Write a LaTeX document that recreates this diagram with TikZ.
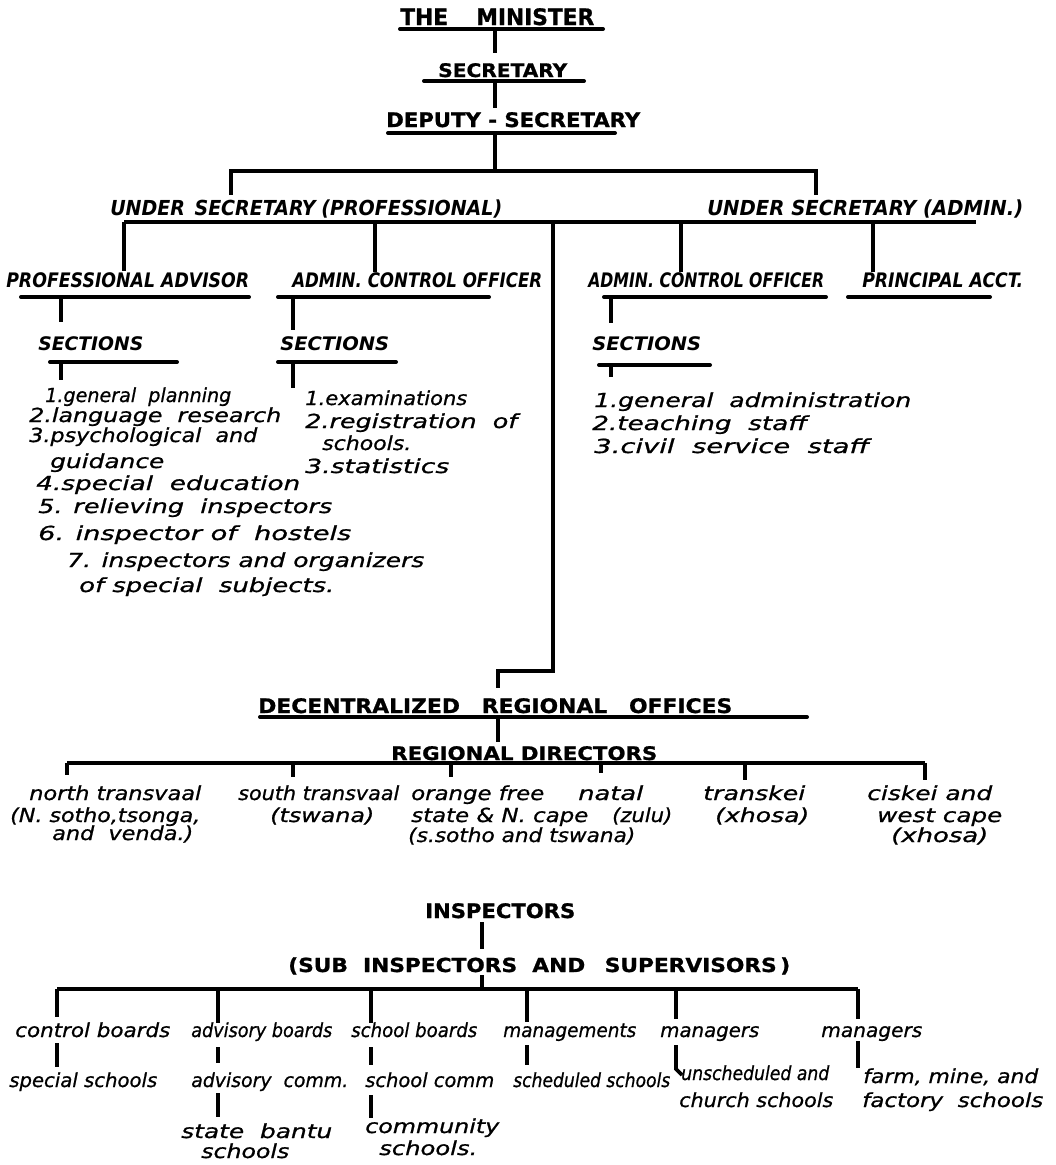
\documentclass[tikz,border=0pt]{standalone}
\usepackage{fontspec}
\usepackage{graphicx}
\newfontface\hfont{DejaVu Sans Bold}[FakeBold=1]
\newfontface\icfont{DejaVu Sans Bold Oblique}
\newfontface\lcfont{DejaVu Sans Oblique}[FakeBold=0.8]
\newlength\pxu
\setlength\pxu{0.75pt}
\newcommand\fw[2]{\resizebox{#1\pxu}{\height}{#2}}
\tikzset{
  hd/.style={anchor=base west, inner sep=0pt, font=\hfont\fontsize{#1}{#1}\selectfont},
  hd/.default=15,
  ic/.style={anchor=base west, inner sep=0pt, font=\icfont\fontsize{#1}{#1}\selectfont},
  ic/.default=15,
  lc/.style={anchor=base west, inner sep=0pt, font=\lcfont\fontsize{14.5}{14.5}\selectfont},
  ln/.style={line width=2.8pt, line cap=butt},
  ul/.style={line width=3pt, line cap=round},
}
\begin{document}
\begin{tikzpicture}[x=0.75pt, y=-0.75pt]
\fill[white] (0,0) rectangle (1056,1165);
\useasboundingbox (0,0) rectangle (1056,1165);

% ---------------- headings ----------------
\node[hd=17] (min) at (400,25) {\fw{194}{THE\hspace{1.3em}MINISTER}};
\node[hd=14] (sec) at (438,77) {\fw{129}{SECRETARY}};
\node[hd=15] (dep) at (386,127) {\fw{254}{DEPUTY - SECRETARY}};

\coordinate (minL) at (400,29); \coordinate (minR) at (603,29);
\coordinate (secL) at (424,81); \coordinate (secR) at (584,81);
\coordinate (depL) at (388,133); \coordinate (depR) at (615,133);
\draw[ul] (minL) -- (minR);
\draw[ul] (secL) -- (secR);
\draw[ul] (depL) -- (depR);
\draw[ln] (495,29) -- (495,53);
\draw[ln] (495,81) -- (495,108);
\draw[ln] (495,133) -- (495,171);
\draw[ln] (231,195) -- (231,171) -- (816,171) -- (816,195);

% ---------------- under secretaries ----------------
\node[ic=15.5] (usp) at (110,215) {\fw{392}{UNDER\hspace{.5em}SECRETARY\hspace{.3em}(PROFESSIONAL)}};
\node[ic=15.5] (usa) at (707,215) {\fw{316}{UNDER SECRETARY (ADMIN.)}};

\draw[ln] (124,222) -- (976,222);
\foreach \x/\y in {124/271, 375/272, 681/272, 873/272}
  \draw[ln] (\x,222) -- (\x,\y);
\draw[ln] (553,222) -- (553,671) -- (498,671) -- (498,688);

% ---------------- officers ----------------
\node[ic=15] (pa) at (6,287) {\fw{243}{PROFESSIONAL ADVISOR}};
\node[ic=15] (aco1) at (292,287) {\fw{250}{ADMIN. CONTROL OFFICER}};
\node[ic=15] (aco2) at (588,287) {\fw{236}{ADMIN. CONTROL OFFICER}};
\node[ic=15] (pacct) at (862,287) {\fw{161}{PRINCIPAL ACCT.}};

\draw[ul] (21,297) -- (249,297);
\draw[ul] (278,297) -- (489,297);
\draw[ul] (604,297) -- (826,297);
\draw[ul] (848,297) -- (990,297);
\draw[ln] (61,297) -- (61,322);
\draw[ln] (293,297) -- (293,330);
\draw[ln] (611,297) -- (611,323);

\node[ic=14] (sec1) at (38,350) {\fw{105}{SECTIONS}};
\node[ic=14] (sec2) at (280,350) {\fw{109}{SECTIONS}};
\node[ic=14] (sec3) at (592,350) {\fw{109}{SECTIONS}};

\draw[ul] (50,362) -- (177,362);
\draw[ul] (278,362) -- (396,362);
\draw[ul] (599,365) -- (710,365);
\draw[ln] (61,362) -- (61,380);
\draw[ln] (293,362) -- (293,388);
\draw[ln] (611,365) -- (611,377);

% ---------------- section lists ----------------
\node[lc] (l1) at (45,402) {\fw{186}{1.general\ \ planning}};
\node[lc] (l2) at (29,422) {\fw{252}{2.language\ \ research}};
\node[lc] (l3) at (29,442) {\fw{228}{3.psychological\ \ and}};
\node[lc] (l3b) at (50,468) {\fw{114}{guidance}};
\node[lc] (l4) at (36,490) {\fw{264}{4.special\ \ education}};
\node[lc] (l5) at (38,513) {\fw{294}{5. relieving\ \ inspectors}};
\node[lc] (l6) at (38,540) {\fw{313}{6. inspector\ of\ \ hostels}};
\node[lc] (l7) at (67,567) {\fw{357}{7. inspectors\ and\ organizers}};
\node[lc] (l7b) at (79,592) {\fw{255}{of\ special\ \ subjects.}};

\node[lc] (m1) at (305,405) {\fw{162}{1.examinations}};
\node[lc] (m2) at (305,428) {\fw{212}{2.registration\ \ of}};
\node[lc] (m2b) at (322,450) {\fw{89}{schools.}};
\node[lc] (m3) at (305,473) {\fw{144}{3.statistics}};

\node[lc] (r1) at (594,407) {\fw{317}{1.general\ \ administration}};
\node[lc] (r2) at (592,430) {\fw{215}{2.teaching\ \ staff}};
\node[lc] (r3) at (594,453) {\fw{275}{3.civil\ \ service\ \ staff}};

% ---------------- regional offices ----------------
\node[hd=15] (dro) at (258,713) {\fw{474}{DECENTRALIZED\hspace{1em}REGIONAL\hspace{1em}OFFICES}};
\draw[ul] (260,717) -- (807,717);
\draw[ln] (498,717) -- (498,742);
\node[hd=14] (rd) at (391,760) {\fw{266}{REGIONAL DIRECTORS}};
\draw[ln] (67,763) -- (925,763);
\foreach \x/\y in {67/775, 293/777, 451/777, 601/773, 745/780, 925/780}
  \draw[ln] (\x,763) -- (\x,\y);

\node[lc] (nt1) at (29,800) {\fw{172}{north transvaal}};
\node[lc] (nt2) at (10,822) {\fw{190}{(N. sotho,tsonga,}};
\node[lc] (nt3) at (52,840) {\fw{141}{and\ \ venda.)}};
\node[lc] (st1) at (238,800) {\fw{161}{south transvaal}};
\node[lc] (st2) at (270,822) {\fw{104}{(tswana)}};
\node[lc] (of1) at (411,800) {\fw{133}{orange free}};
\node[lc] (of2) at (411,822) {\fw{177}{state \& N. cape}};
\node[lc] (of3) at (408,842) {\fw{227}{(s.sotho and tswana)}};
\node[lc] (na1) at (578,800) {\fw{65}{natal}};
\node[lc] (na2) at (612,822) {\fw{60}{(zulu)}};
\node[lc] (tk1) at (703,800) {\fw{102}{transkei}};
\node[lc] (tk2) at (715,822) {\fw{94}{(xhosa)}};
\node[lc] (ck1) at (867,800) {\fw{125}{ciskei and}};
\node[lc] (ck2) at (877,822) {\fw{125}{west cape}};
\node[lc] (ck3) at (891,842) {\fw{97}{(xhosa)}};

% ---------------- inspectors ----------------
\node[hd=15] (ins) at (425,918) {\fw{150}{INSPECTORS}};
\draw[ln] (482,922) -- (482,949);
\node[hd=14.5] (sub) at (288,972) {\fw{502}{(SUB\hspace{.7em}INSPECTORS\hspace{.7em}AND\hspace{.9em}SUPERVISORS\,)}};
\draw[ln] (482,975) -- (482,989);
\draw[ln] (57,989) -- (858,989);
\foreach \x/\y in {57/1017, 218/1023, 371/1023, 527/1022, 676/1019, 858/1019}
  \draw[ln] (\x,989) -- (\x,\y);

\node[lc] (b1) at (15,1037) {\fw{155}{control boards}};
\node[lc] (b2) at (191,1037) {\fw{141}{advisory boards}};
\node[lc] (b3) at (351,1037) {\fw{126}{school boards}};
\node[lc] (b4) at (503,1037) {\fw{133}{managements}};
\node[lc] (b5) at (660,1037) {\fw{99}{managers}};
\node[lc] (b6) at (821,1037) {\fw{101}{managers}};

\draw[ln] (57,1043) -- (57,1067);
\draw[ln] (218,1047) -- (218,1063);
\draw[ln] (371,1047) -- (371,1065);
\draw[ln] (527,1045) -- (527,1065);
\draw[ln] (676,1045) -- (676,1069) -- (682,1075);
\draw[ln] (858,1041) -- (858,1068);

\node[lc] (c1) at (9,1087) {\fw{148}{special schools}};
\node[lc] (c2) at (191,1087) {\fw{157}{advisory\ \ comm.}};
\node[lc] (c3) at (365,1087) {\fw{129}{school comm}};
\node[lc] (c4) at (513,1087) {\fw{157}{scheduled schools}};
\node[lc] (c5a) at (681,1080) {\fw{148}{unscheduled and}};
\node[lc] (c5b) at (679,1107) {\fw{154}{church schools}};
\node[lc] (c6a) at (863,1083) {\fw{175}{farm, mine, and}};
\node[lc] (c6b) at (862,1107) {\fw{181}{factory\ \ schools}};

\draw[ln] (218,1093) -- (218,1117);
\draw[ln] (371,1095) -- (371,1118);

\node[lc] (d2a) at (181,1138) {\fw{151}{state\ \ bantu}};
\node[lc] (d2b) at (201,1158) {\fw{88}{schools}};
\node[lc] (d3a) at (365,1133) {\fw{134}{community}};
\node[lc] (d3b) at (379,1155) {\fw{98}{schools.}};
\end{tikzpicture}
\end{document}
